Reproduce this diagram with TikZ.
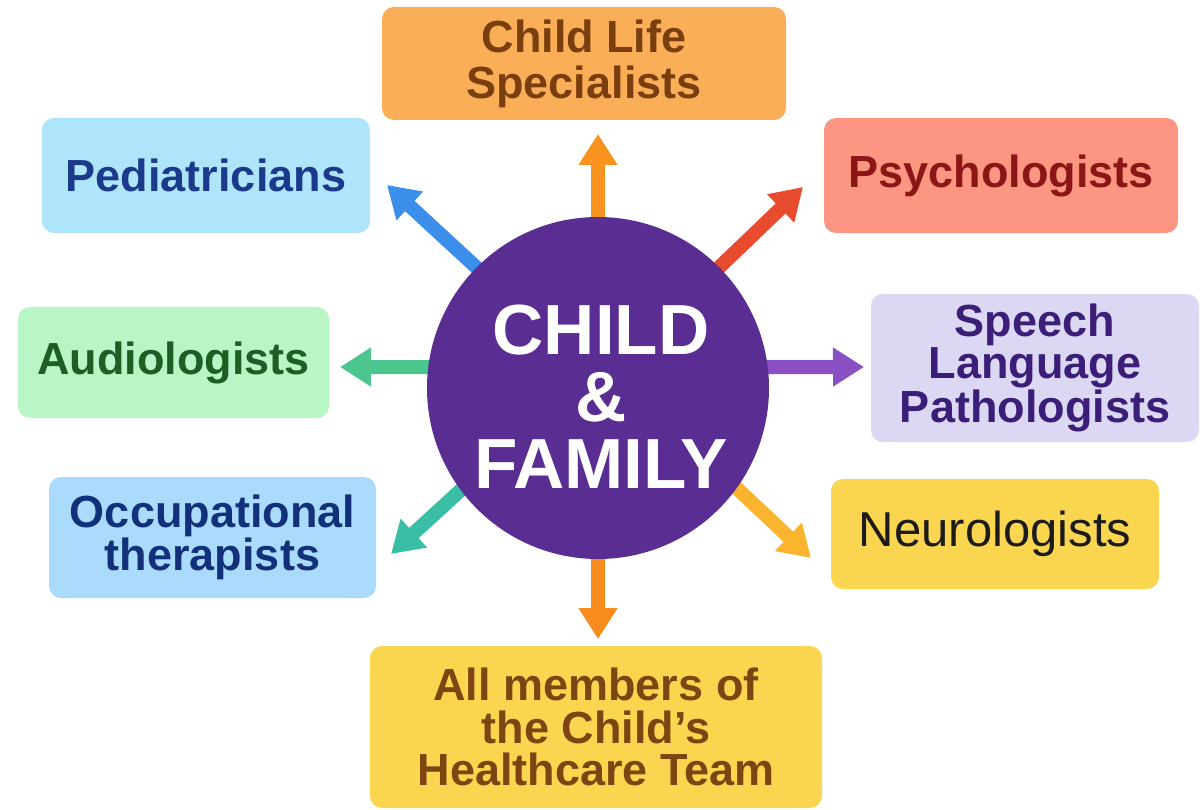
\documentclass[tikz,border=0pt]{standalone}
\usepackage{fontspec}
\setmainfont{Liberation Sans}
\usetikzlibrary{arrows.meta,calc}
\pgfdeclarelayer{bg}
\pgfsetlayers{bg,main}
\definecolor{clsF}{HTML}{F9AE57}\definecolor{clsT}{HTML}{7B3F0F}
\definecolor{pedF}{HTML}{AEE5FB}\definecolor{pedT}{HTML}{1B3A8C}
\definecolor{psyF}{HTML}{FC9582}\definecolor{psyT}{HTML}{8A1616}
\definecolor{slpF}{HTML}{DCD7F3}\definecolor{slpT}{HTML}{3A1E78}
\definecolor{audF}{HTML}{B9F6C6}\definecolor{audT}{HTML}{1D5E27}
\definecolor{occF}{HTML}{AADBFC}\definecolor{occT}{HTML}{13317A}
\definecolor{neuF}{HTML}{FAD650}\definecolor{neuT}{HTML}{1B1B1B}
\definecolor{allF}{HTML}{FAD650}\definecolor{allT}{HTML}{7B4612}
\definecolor{circF}{HTML}{5A2D92}
\definecolor{aUp}{HTML}{F7931E}\definecolor{aUL}{HTML}{3B8EEA}
\definecolor{aUR}{HTML}{E84B2D}\definecolor{aL}{HTML}{4CC58E}
\definecolor{aR}{HTML}{8A4FC2}\definecolor{aLL}{HTML}{3ABFA6}
\definecolor{aLR}{HTML}{FBB42E}\definecolor{aDn}{HTML}{F88B1E}
\begin{document}
\begin{tikzpicture}[x=1pt,y=-1pt,
  box/.style={rectangle, rounded corners=12pt, inner sep=0pt, align=center,
    font=\fontsize{45}{44}\selectfont\bfseries},
  conn/.style={line width=14pt, -{Triangle[length=31pt,width=37pt]}},
  hub/.style={circle, fill=circF, minimum size=342pt, inner sep=0pt}]
\useasboundingbox (0,0) rectangle (1202,810);

\node[hub] (c) at (598,388) {};
\node[text=white, align=center, font=\fontsize{71}{67}\selectfont\bfseries, inner sep=0pt] (ct) at (601,397) {CHILD\\\&\\FAMILY};

\node[box, fill=clsF, text=clsT, minimum width=404pt, minimum height=113pt, font=\fontsize{45}{46}\selectfont\bfseries] (cls) at (584,63.5) {\raisebox{-3pt}{\parbox{400pt}{\centering Child Life\\Specialists}}};
\node[box, fill=pedF, text=pedT, minimum width=328pt, minimum height=115pt] (ped) at (206,175.5) {\raisebox{-3pt}{Pediatricians}};
\node[box, fill=psyF, text=psyT, minimum width=354pt, minimum height=115pt] (psy) at (1001,175.5) {\raisebox{-3pt}{Psychologists}};
\node[box, fill=slpF, text=slpT, minimum width=328pt, minimum height=148pt, font=\fontsize{45}{42}\selectfont\bfseries] (slp) at (1035,368) {Speech\\Language\\Pathologists};
\node[box, fill=audF, text=audT, minimum width=311pt, minimum height=111pt] (aud) at (173.5,362.5) {\raisebox{-3pt}{Audiologists}};
\node[box, fill=occF, text=occT, minimum width=327pt, minimum height=121pt, font=\fontsize{45}{40}\selectfont\bfseries] (occ) at (212.5,537.5) {Occupational\\therapists};
\node[box, fill=neuF, text=neuT, minimum width=328pt, minimum height=110pt, font=\fontsize{49}{49}\selectfont] (neu) at (995,534) {\raisebox{-3pt}{Neurologists}};
\node[box, fill=allF, text=allT, minimum width=452pt, minimum height=162pt, font=\fontsize{45}{42.5}\selectfont\bfseries] (all) at (596,727) {All members of\\the Child’s\\Healthcare Team};

\coordinate (tUp) at (598,134);
\coordinate (tUL) at (387,185);
\coordinate (tUR) at (803,187);
\coordinate (tL) at (340,367);
\coordinate (tR) at (864,367);
\coordinate (tLL) at (391,554);
\coordinate (tLR) at (811,558);
\coordinate (tDn) at (598,639);

\begin{pgfonlayer}{bg}
\fill[white] (0,0) rectangle (1202,810);
\draw[conn, aUp] ($(c.90)!0.1!(c.center)$) -- (tUp);
\draw[conn, aUL] ($(c.135)!0.1!(c.center)$) -- (tUL);
\draw[conn, aUR] ($(c.45)!0.1!(c.center)$) -- (tUR);
\draw[conn, aL] ($(c.173)+(15,0)$) -- (tL);
\draw[conn, aR] ($(c.7)+(-15,0)$) -- (tR);
\draw[conn, aLL] ($(c.216)!0.1!(c.center)$) -- (tLL);
\draw[conn, aLR] ($(c.325)!0.1!(c.center)$) -- (tLR);
\draw[conn, aDn] ($(c.270)!0.1!(c.center)$) -- (tDn);
\end{pgfonlayer}
\end{tikzpicture}
\end{document}
